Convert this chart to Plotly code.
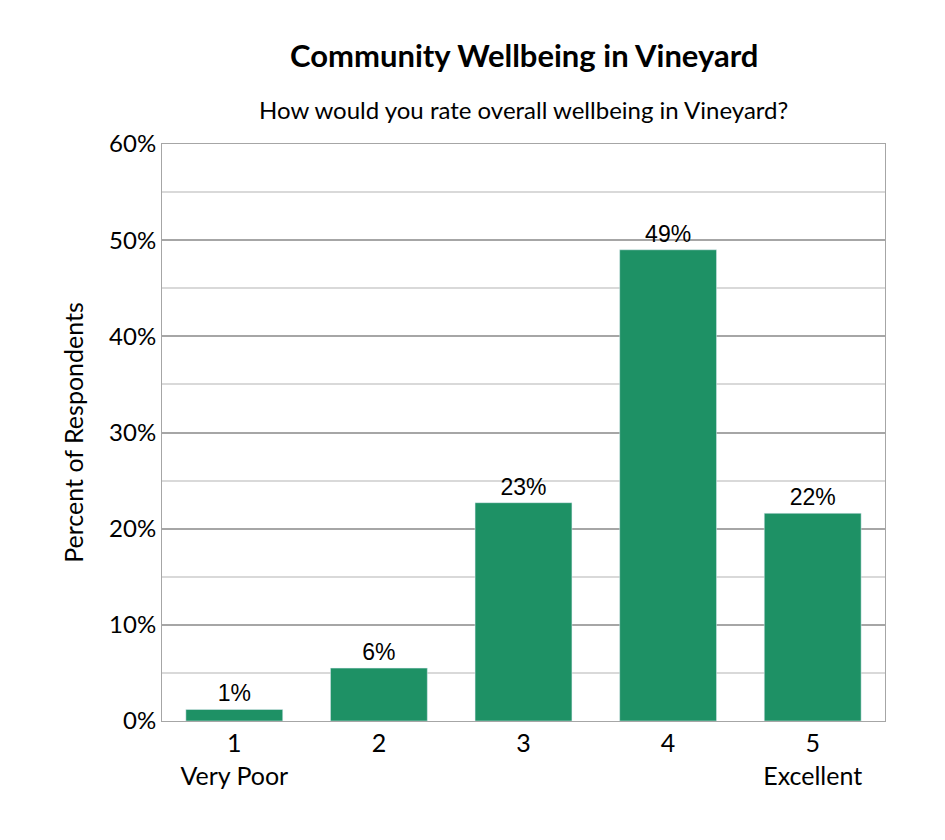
import plotly.graph_objects as go

categories = ["1<br>Very Poor", "2", "3", "4", "5<br>Excellent"]
values = [1.2, 5.5, 22.7, 49.0, 21.6]
labels = ["1%", "6%", "23%", "49%", "22%"]

fig = go.Figure(go.Bar(
    x=categories, y=values, text=labels, textposition="outside",
    textfont=dict(family="Liberation Sans", size=23, color="black"),
    marker=dict(color="#1e9165"), width=0.67, cliponaxis=False))

fig.update_layout(
    width=945, height=840, plot_bgcolor="white", paper_bgcolor="white",
    margin=dict(l=154, r=68, t=136, b=127, autoexpand=False),
    showlegend=False,
    annotations=[
        dict(text="<b>Community Wellbeing in Vineyard</b>", xref="paper", yref="paper",
             x=0.5, y=1.155, xanchor="center", yanchor="middle", showarrow=False,
             font=dict(family="Lato", size=31, color="black")),
        dict(text="How would you rate overall wellbeing in Vineyard?", xref="paper", yref="paper",
             x=0.5, y=1.06, xanchor="center", yanchor="middle", showarrow=False,
             font=dict(family="Lato", size=24, color="black")),
    ],
)
fig.update_yaxes(range=[0, 60], dtick=10, ticksuffix="%", gridcolor="#a6a6a6", gridwidth=1.5,
                 minor=dict(dtick=5, showgrid=True, gridcolor="#d9d9d9"),
                 showline=True, linecolor="#a6a6a6", mirror=True, zeroline=False,
                 tickfont=dict(family="Lato", size=24, color="black"),
                 title=dict(text="Percent of Respondents", font=dict(family="Lato", size=25, color="black"), standoff=18))
fig.update_xaxes(showline=True, linecolor="#a6a6a6", mirror=True,
                 tickfont=dict(family="Lato", size=25, color="black"))
fig.write_html("out.html")
